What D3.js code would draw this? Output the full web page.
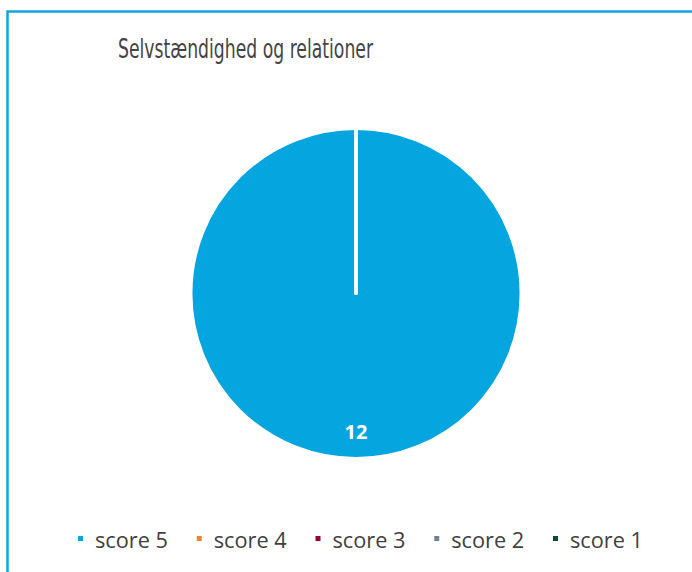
<!DOCTYPE html>
<html>
<head>
<meta charset="utf-8">
<script src="https://d3js.org/d3.v7.min.js"></script>
<style>
  body { margin: 0px; padding: 0px; background: #fff; }
</style>
</head>
<body>
<div id="svg_cont"></div>
<script>

// data
var title = "Selvstændighed og relationer";
var categories = ["score 5", "score 4", "score 3", "score 2", "score 1"];
var values = [12, 0, 0, 0, 0];
var colors = ["#05a5e0", "#e8873a", "#9b0030", "#6f8397", "#0c4a3c"];

var w = 692, h = 572;

var svg = d3.select("#svg_cont")
  .append("svg")
  .attr("width", w)
  .attr("height", h);

// chart frame (only left + top edges visible)
svg.append("path")
  .attr("d", "M7.5," + h + " L7.5,11.5 L" + w + ",11.5")
  .attr("fill", "none")
  .attr("stroke", "#0ea5e0")
  .attr("stroke-width", 2.5);

svg.append("text")
  .attr("x", 118)
  .attr("y", 58)
  .attr("font-family", "'Liberation Sans Narrow', 'DejaVu Sans Condensed', sans-serif")
  .attr("font-size", 26)
  .attr("fill", "#444")
  .attr("textLength", 255)
  .attr("lengthAdjust", "spacingAndGlyphs")
  .text(title);

// pie
var cx = 356, cy = 293.5, r = 165;

var pie = d3.pie().sort(null).value(d => d.v);
var arc = d3.arc().innerRadius(0).outerRadius(r);

var table = categories.map((c, i) => ({ name: c, v: values[i], color: colors[i] }));
var arcs = pie(table);

var g = svg.append("g").attr("transform", "translate(" + cx + "," + cy + ")");

g.selectAll("path")
  .data(arcs)
  .enter().append("path")
    .attr("d", arc)
    .attr("fill", d => d.data.color)
    .attr("stroke", "#fff")
    .attr("stroke-width", 3)
    .attr("stroke-linejoin", "round");

// data labels (non-zero only)
var labelArc = d3.arc().innerRadius(r * 0.84).outerRadius(r * 0.84);
g.selectAll("text.lbl")
  .data(arcs.filter(d => d.data.v > 0))
  .enter().append("text")
    .attr("class", "lbl")
    .attr("transform", d => {
      var c = labelArc.centroid(d);
      // full circle: centroid lands at bottom
      if (d.endAngle - d.startAngle >= 2 * Math.PI - 1e-6) c = [0, r * 0.84];
      return "translate(" + c[0] + "," + (c[1] + 7) + ")";
    })
    .attr("text-anchor", "middle")
    .attr("font-family", "'Open Sans', 'DejaVu Sans', sans-serif")
    .attr("font-weight", "bold")
    .attr("font-size", 20)
    .attr("fill", "#fff")
    .text(d => d.data.v);

// legend
var lx = d3.scalePoint().domain(categories).range([78, 553]);

var leg = svg.selectAll("g.leg")
  .data(table)
  .enter().append("g")
    .attr("class", "leg")
    .attr("transform", d => "translate(" + lx(d.name) + ",536)");

leg.append("rect")
  .attr("width", 5)
  .attr("height", 5)
  .attr("fill", d => d.color);

leg.append("text")
  .attr("x", 17)
  .attr("y", 12)
  .attr("font-family", "'Open Sans', sans-serif")
  .attr("font-size", 22)
  .attr("fill", "#404040")
  .attr("textLength", 73)
  .attr("lengthAdjust", "spacingAndGlyphs")
  .text(d => d.name);

</script>
</body>
</html>
